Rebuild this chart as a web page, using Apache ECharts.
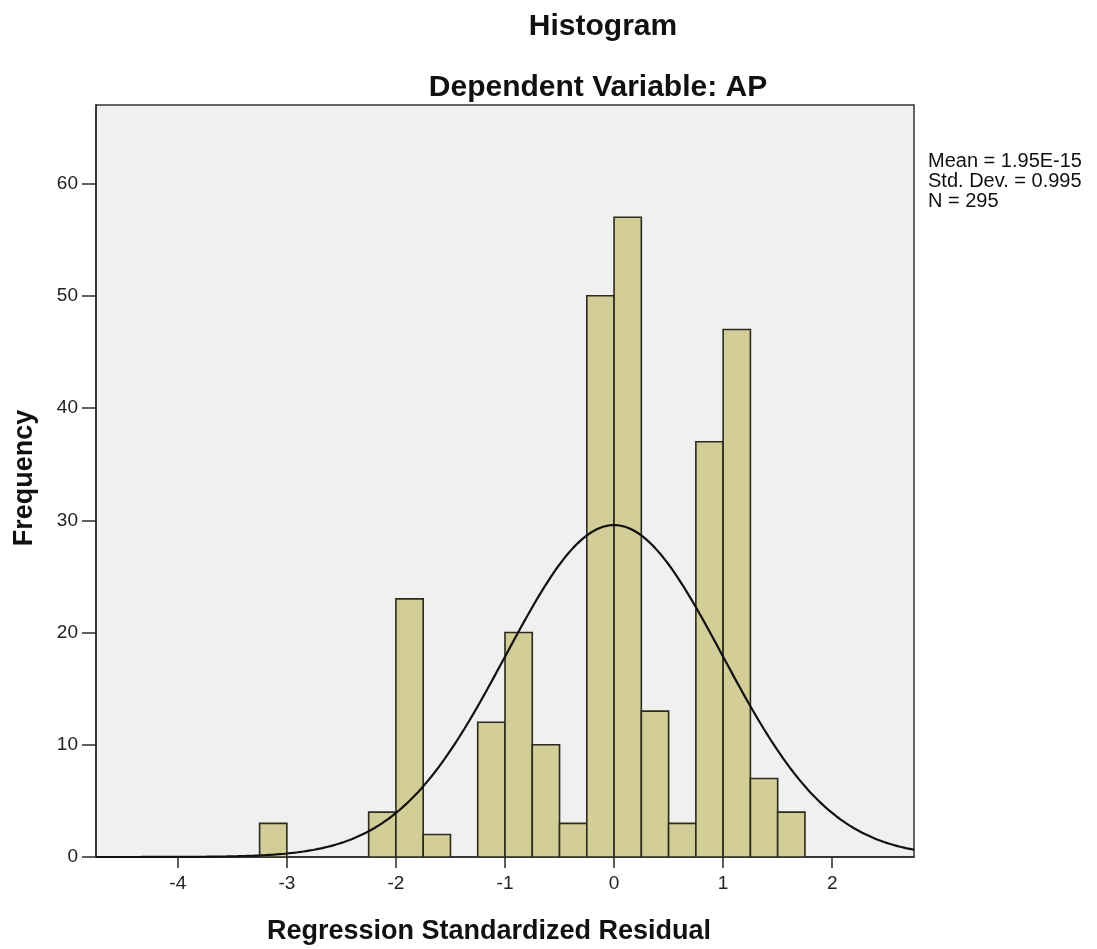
<!DOCTYPE html>
<html>
<head>
<meta charset="utf-8">
<script src="https://cdn.jsdelivr.net/npm/echarts@6.0.0/dist/echarts.min.js"></script>
<style>
html,body{margin:0;padding:0;background:#fff;}
#chart{width:1097px;height:949px;}
</style>
</head>
<body>
<div id="chart"></div>
<script>
// ---- data ----
const binStarts = [-3.25, -3.0, -2.75, -2.5, -2.25, -2.0, -1.75, -1.5, -1.25, -1.0, -0.75, -0.5, -0.25, 0.0, 0.25, 0.5, 0.75, 1.0, 1.25, 1.5];
const counts    = [3, 0, 0, 0, 4, 23, 2, 0, 12, 20, 10, 3, 50, 57, 13, 3, 37, 47, 7, 4];
const binWidth = 0.25;
const xTicks = [-4, -3, -2, -1, 0, 1, 2];
const yTicks = [0, 10, 20, 30, 40, 50, 60];
const statMean = 1.95e-15;
const statSd = 0.995;
const statN = 295;
const statLabels = ['Mean = 1.95E-15', 'Std. Dev. = 0.995', 'N = 295'];
const titleText = 'Histogram';
const subtitleText = 'Dependent Variable: AP';
const xName = 'Regression Standardized Residual';
const yName = 'Frequency';
const xMin = -4.75, xMax = 2.75, yMin = 0, yMax = 67;

// bins for the custom series
const bins = binStarts.map((s, i) => [s, s + binWidth, counts[i]]);

// fitted normal curve from the shown statistics (mean, sd, N, bin width)
const curve = [];
for (let k = 0; k <= 300; k++) {
  const x = xMin + (xMax - xMin) * k / 300;
  const z = (x - statMean) / statSd;
  const y = statN * binWidth / (statSd * Math.sqrt(2 * Math.PI)) * Math.exp(-0.5 * z * z);
  curve.push([x, y]);
}

const FONT = '"Liberation Sans", Arial, sans-serif';
const chart = echarts.init(document.getElementById('chart'), null, {renderer: 'canvas'});
chart.setOption({
  animation: false,
  backgroundColor: '#ffffff',
  grid: {
    left: 96, right: 183, top: 105, bottom: 92,
    show: true, backgroundColor: '#f0f0f0', borderColor: '#333333', borderWidth: 1.5
  },
  xAxis: {
    type: 'value', min: xMin, max: xMax,
    axisLine: {show: true, onZero: false, lineStyle: {color: '#2a2a2a', width: 1.5}},
    axisTick: {show: true, customValues: xTicks, length: 11, lineStyle: {color: '#2a2a2a', width: 1.5}},
    axisLabel: {customValues: xTicks, fontSize: 19, fontFamily: FONT, color: '#222', margin: 17},
    splitLine: {show: false}
  },
  yAxis: {
    type: 'value', min: yMin, max: yMax,
    axisLine: {show: true, onZero: false, lineStyle: {color: '#2a2a2a', width: 1.5}},
    axisTick: {show: true, customValues: yTicks, length: 14, lineStyle: {color: '#2a2a2a', width: 1.5}},
    axisLabel: {customValues: yTicks, fontSize: 19, fontFamily: FONT, color: '#222', margin: 18},
    splitLine: {show: false}
  },
  graphic: [
    {type: 'text', x: 603, y: 27, style: {text: titleText, font: 'bold 30px ' + FONT, fill: '#111', align: 'center', verticalAlign: 'middle'}},
    {type: 'text', x: 598, y: 88, style: {text: subtitleText, font: 'bold 30px ' + FONT, fill: '#111', align: 'center', verticalAlign: 'middle'}},
    {type: 'text', x: 489, y: 932, style: {text: xName, font: 'bold 27px ' + FONT, fill: '#111', align: 'center', verticalAlign: 'middle'}},
    {type: 'text', x: 25, y: 478, rotation: Math.PI / 2, style: {text: yName, font: 'bold 27px ' + FONT, fill: '#111', align: 'center', verticalAlign: 'middle'}},
    {type: 'text', x: 928, y: 151, style: {text: statLabels.join('\n'), font: '20px ' + FONT, lineHeight: 20, fill: '#111', align: 'left', verticalAlign: 'top'}}
  ],
  series: [
    {
      type: 'custom',
      data: bins,
      encode: {x: [0, 1], y: 2},
      clip: true,
      renderItem: function (params, api) {
        const v = api.value(2);
        if (!v) return null;
        const p0 = api.coord([api.value(0), 0]);
        const p1 = api.coord([api.value(1), v]);
        return {
          type: 'rect',
          shape: {x: p0[0], y: p1[1], width: p1[0] - p0[0], height: p0[1] - p1[1]},
          style: {fill: '#d3ce97', stroke: '#2b2a1c', lineWidth: 1.6}
        };
      },
      z: 2
    },
    {
      type: 'line',
      data: curve,
      showSymbol: false,
      smooth: false,
      clip: true,
      lineStyle: {color: '#111', width: 2.2},
      z: 3
    }
  ]
});
</script>
</body>
</html>
